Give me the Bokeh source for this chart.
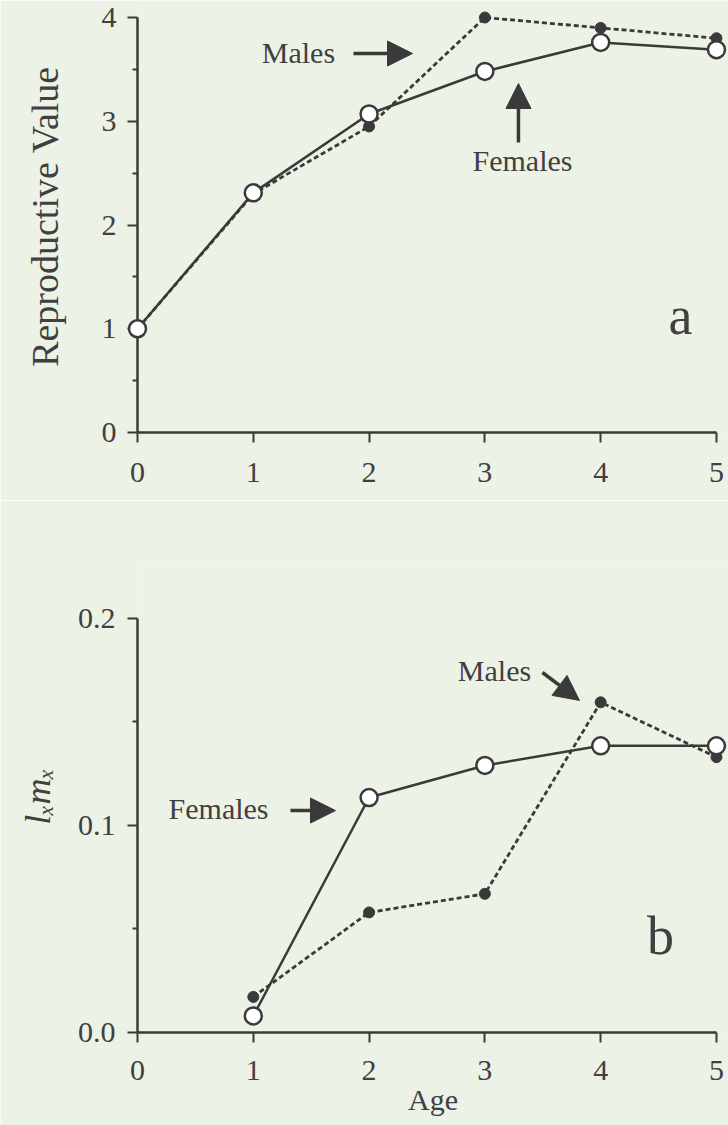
from bokeh.plotting import figure
from bokeh.layouts import column
from bokeh.models import (LinearAxis, FixedTicker, PrintfTickFormatter, Range1d,
                          Arrow, NormalHead, Label)
from bokeh.embed import file_html
from bokeh.resources import INLINE

# ---------------- data ----------------
ages_a = [0, 1, 2, 3, 4, 5]
rv_females = [1.0, 2.31, 3.07, 3.48, 3.76, 3.69]
rv_males = [1.0, 2.30, 2.95, 4.00, 3.90, 3.80]

ages_b = [1, 2, 3, 4, 5]
lm_females = [0.008, 0.1135, 0.129, 0.1385, 0.1385]
lm_males = [0.0172, 0.058, 0.067, 0.1595, 0.133]

x_ticks = [0, 1, 2, 3, 4, 5]
a_ticks = [0, 1, 2, 3, 4]
a_minor = [0.5, 1.5, 2.5, 3.5]
b_ticks = [0.0, 0.1, 0.2]
b_minor = [0.05, 0.15]

# ---------------- style ----------------
BG = "#edf2e7"
INK = "#3a3a3a"
TXT = "#404040"
FONT = "Liberation Serif"
XR = (0, 5.104)


def make_fig(height, yr, top, bottom):
    p = figure(width=728, height=height, x_range=Range1d(*XR), y_range=Range1d(*yr),
               x_axis_type=None, y_axis_type=None, output_backend="svg",
               toolbar_location=None, min_border_left=137, min_border_right=0,
               min_border_top=top, min_border_bottom=bottom)
    p.background_fill_color = BG
    p.border_fill_color = BG
    p.outline_line_color = None
    return p


def style_axis(ax):
    ax.axis_line_color = INK
    ax.axis_line_width = 2.5
    ax.major_tick_line_color = INK
    ax.major_tick_line_width = 2
    ax.minor_tick_line_color = INK
    ax.minor_tick_line_width = 2
    ax.major_tick_in = 0
    ax.major_tick_out = 10
    ax.minor_tick_in = 0
    ax.minor_tick_out = 5
    ax.major_label_text_font = FONT
    ax.major_label_text_font_size = "30px"
    ax.major_label_text_color = TXT
    ax.axis_label_text_font = FONT
    ax.axis_label_text_font_style = "normal"
    ax.axis_label_text_color = TXT


def draw_series(p, xf, yf, xm, ym):
    p.line(xm, ym, line_color=INK, line_width=2.8, line_dash="5 3", level="overlay")
    p.scatter(xm, ym, size=11, fill_color=INK, line_color=INK, level="overlay")
    p.line(xf, yf, line_color=INK, line_width=2.5, level="overlay")
    p.scatter(xf, yf, size=17, fill_color="white", line_color=INK, line_width=2.5,
              level="overlay")


def add_text(p, x, y, text, size="30px"):
    p.add_layout(Label(x=x, y=y, text=text, text_font=FONT, text_font_size=size,
                       text_color=TXT, text_align="center", text_baseline="middle"))


def add_arrow(p, x0, y0, x1, y1):
    p.add_layout(Arrow(end=NormalHead(size=25, fill_color=INK, line_color=INK),
                       x_start=x0, y_start=y0, x_end=x1, y_end=y1,
                       line_color=INK, line_width=3.5))


# ---------------- panel a ----------------
pa = make_fig(500, (0, 4.164), 0, 68)
xa = LinearAxis(ticker=FixedTicker(ticks=x_ticks), bounds=(0, 5))
style_axis(xa)
xa.major_label_standoff = 20
pa.add_layout(xa, "below")
ya = LinearAxis(ticker=FixedTicker(ticks=a_ticks, minor_ticks=a_minor), bounds=(0, 4),
                axis_label="Reproductive Value")
style_axis(ya)
ya.major_label_standoff = 11
ya.axis_label_text_font_size = "38px"
ya.axis_label_standoff = 33
pa.add_layout(ya, "left")

draw_series(pa, ages_a, rv_females, ages_a, rv_males)
add_text(pa, 1.39, 3.66, "Males")
add_arrow(pa, 1.865, 3.653, 2.375, 3.653)
add_text(pa, 3.325, 2.62, "Females")
add_arrow(pa, 3.29, 2.795, 3.29, 3.364)
add_text(pa, 4.69, 1.12, "a", size="54px")

# ---------------- panel b ----------------
pb = make_fig(625, (0, 0.228), 60, 93)
xb = LinearAxis(ticker=FixedTicker(ticks=x_ticks), bounds=(0, 5), axis_label="Age")
style_axis(xb)
xb.major_label_standoff = 18
xb.axis_label_text_font_size = "30px"
xb.axis_label_standoff = 0
pb.add_layout(xb, "below")
yb = LinearAxis(ticker=FixedTicker(ticks=b_ticks, minor_ticks=b_minor), bounds=(0, 0.2),
                formatter=PrintfTickFormatter(format="%.1f"),
                axis_label="l\u2093m\u2093")
style_axis(yb)
yb.major_label_standoff = 12
yb.axis_label_text_font_size = "36px"
yb.axis_label_text_font_style = "italic"
yb.axis_label_standoff = 17
pb.add_layout(yb, "left")

draw_series(pb, ages_b, lm_females, ages_b, lm_males)
add_text(pb, 3.083, 0.1749, "Males")
add_arrow(pb, 3.497, 0.1739, 3.817, 0.1604)
add_text(pb, 0.70, 0.1082, "Females")
add_arrow(pb, 1.321, 0.1072, 1.71, 0.1072)
add_text(pb, 4.516, 0.0464, "b", size="54px")

layout = column(pa, pb, spacing=0)
open("out.html", "w").write(file_html(layout, INLINE))
